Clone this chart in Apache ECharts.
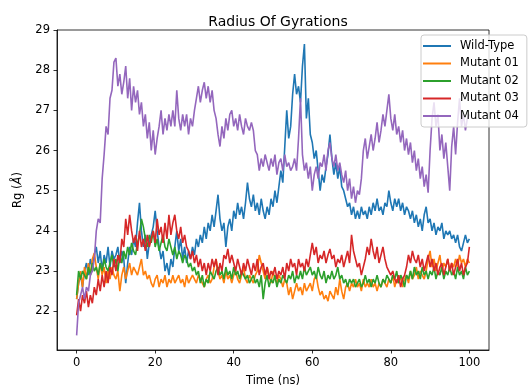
<!DOCTYPE html>
<html>
<head>
<meta charset="utf-8">
<script src="https://cdn.jsdelivr.net/npm/echarts@6/dist/echarts.min.js"></script>
<style>html,body{margin:0;padding:0;background:#fff}#c{width:528px;height:392px}</style>
</head>
<body>
<div id="c"></div>
<script>
// Time axis: samples every 0.5 ns from 0 to 100 ns
const time = Array.from({length: 201}, (_, i) => i * 0.5);
const xTicks = [0, 20, 40, 60, 80, 100];
const yTicks = [22, 23, 24, 25, 26, 27, 28, 29];
const seriesNames = ['Wild-Type', 'Mutant 01', 'Mutant 02', 'Mutant 03', 'Mutant 04'];

const wildType = [
22.3,22.7,22.9,22.6,23.0,23.2,22.9,23.3,23.1,23.4,
23.6,23.2,23.5,23.0,23.4,23.2,23.6,23.1,23.5,23.3,
23.4,23.6,23.2,23.5,23.3,22.7,23.2,23.6,23.4,23.8,
23.6,24.2,24.7,24.0,23.6,23.9,23.3,23.7,23.9,24.1,
24.5,24.0,23.6,23.3,23.5,23.0,23.2,22.9,23.3,23.1,
23.6,24.0,23.5,23.8,23.3,23.6,23.2,23.5,23.3,23.6,
23.4,23.8,23.6,23.9,23.7,24.1,23.8,24.2,24.0,24.4,
24.1,24.5,24.9,24.3,24.0,24.2,23.6,24.1,24.3,24.0,
24.5,24.3,24.7,24.4,24.6,24.3,24.7,25.2,24.8,24.6,
24.9,24.5,24.7,24.4,24.8,24.5,24.3,24.6,24.4,24.8,
24.6,25.0,24.7,25.1,25.5,25.2,26.1,27.0,26.3,26.6,
27.4,27.9,27.4,27.6,27.2,28.1,28.65,26.8,27.3,26.4,
26.2,25.8,26.0,25.5,25.0,25.4,25.2,25.6,25.9,26.4,
25.8,25.4,25.7,25.3,25.6,25.1,25.0,24.8,24.6,24.7,
24.4,24.6,24.3,24.5,24.3,24.6,24.4,24.5,24.3,24.6,
24.4,24.7,24.5,24.8,24.5,24.6,24.4,24.7,24.6,25.0,
24.7,24.5,24.8,24.6,24.8,24.5,24.7,24.4,24.6,24.5,
24.3,24.5,24.2,24.4,24.1,24.3,24.0,24.4,24.6,24.2,
24.3,24.0,24.2,23.9,24.1,24.0,24.2,23.8,24.0,23.9,
24.0,23.8,23.9,23.7,23.9,23.6,23.5,23.7,23.9,23.7,23.8
];
const mutant01 = [
22.3,22.7,23.0,22.6,23.1,22.8,23.2,22.9,23.3,23.45,
23.1,22.8,23.2,22.9,23.1,22.7,23.0,22.8,23.1,22.9,
22.8,23.0,22.5,22.9,23.1,22.8,23.0,23.2,22.9,23.1,
23.0,22.9,23.1,23.3,22.9,23.0,22.8,22.9,22.7,22.6,
22.8,22.9,22.6,22.8,22.7,22.9,22.6,22.8,22.7,22.9,
22.7,22.8,22.9,22.7,22.8,22.6,22.9,22.7,22.8,22.9,
22.8,22.7,22.9,22.8,22.7,22.6,22.8,22.9,22.7,22.8,
23.1,23.3,23.0,22.8,22.9,22.7,23.0,22.8,22.9,22.7,
22.9,23.0,22.8,22.7,22.9,23.1,22.8,22.7,22.9,22.8,
22.7,22.9,23.0,23.4,23.2,23.0,22.8,23.1,22.9,22.7,
23.0,22.8,22.7,22.9,22.8,22.6,22.8,22.7,22.4,22.6,
22.3,22.5,22.7,22.5,22.6,22.4,22.7,22.5,22.6,22.7,
22.5,22.8,22.9,22.6,22.4,22.5,22.3,22.4,22.25,22.5,
22.4,22.3,22.6,22.4,22.8,22.5,22.3,22.6,22.7,22.5,
22.7,22.6,22.8,22.6,22.7,22.5,22.8,22.6,22.7,22.6,
22.8,22.6,22.7,22.5,22.7,22.6,22.8,22.7,22.6,22.8,
22.7,22.9,22.6,22.8,22.7,22.9,22.6,22.8,22.9,22.7,
23.0,22.8,22.9,23.1,22.8,23.0,22.9,22.8,23.0,23.3,
23.5,23.1,23.3,23.0,23.2,23.4,23.0,23.2,23.1,23.3,
23.0,23.2,23.1,23.3,23.1,23.4,23.2,23.3,23.1,23.3,23.2
];
const mutant02 = [
22.4,23.0,22.8,23.0,22.9,22.8,23.1,22.9,23.2,23.0,
23.1,22.9,23.2,23.0,23.3,23.1,23.0,23.2,23.4,23.1,
23.3,23.0,23.4,23.2,23.5,23.3,23.6,23.4,23.7,23.5,
23.4,23.7,23.9,24.3,24.1,23.8,23.6,23.9,23.7,24.0,
23.6,23.8,23.5,23.7,23.9,23.6,23.5,23.8,23.6,23.4,
23.6,23.3,23.5,23.4,23.2,23.4,23.3,23.1,23.2,23.0,
23.1,22.9,23.0,22.7,22.9,22.6,22.8,22.7,23.0,22.9,
22.8,23.0,23.1,22.9,23.0,22.8,23.1,22.9,23.0,22.8,
23.1,22.9,23.0,22.8,23.0,22.9,22.8,22.9,22.7,22.8,
22.9,22.7,22.8,22.6,22.9,22.3,22.7,22.9,22.6,22.8,
22.7,22.9,22.6,22.8,22.7,22.9,22.8,22.7,22.9,22.8,
23.0,22.7,22.9,22.8,23.0,22.8,23.1,22.9,23.0,23.1,
22.9,23.0,22.8,23.1,22.9,22.8,23.0,22.7,22.9,22.8,
23.0,22.8,22.9,23.1,22.8,22.9,22.7,22.8,22.6,22.8,
22.7,22.8,22.6,22.7,22.8,22.6,22.7,22.9,22.7,22.8,
22.6,22.8,22.7,22.9,22.7,22.6,22.8,22.7,22.9,22.8,
22.7,22.9,22.8,23.0,22.7,22.9,22.8,22.6,22.9,22.8,
23.0,22.8,23.1,22.9,23.0,22.8,23.1,22.9,23.0,22.8,
23.0,22.9,23.1,22.8,23.0,22.9,23.1,22.8,23.0,22.9,
23.1,22.9,23.0,22.8,23.1,22.9,23.0,22.8,23.1,22.9,23.0
];
const mutant03 = [
21.9,22.3,22.0,22.4,22.2,22.5,22.1,22.4,22.2,22.6,
22.4,22.8,22.5,22.9,22.6,23.0,22.7,23.1,22.9,23.3,
23.0,23.4,23.2,23.8,23.6,24.3,23.9,24.4,24.0,23.7,
23.9,23.5,24.0,23.6,23.8,23.5,23.9,23.6,23.8,24.0,
23.7,24.3,23.9,24.1,23.7,24.2,23.8,24.4,23.9,24.2,
24.4,24.0,23.8,24.1,23.7,23.9,23.6,23.5,23.3,23.5,
23.2,23.4,23.1,23.3,23.0,23.2,22.9,23.2,23.0,23.3,
23.1,23.3,22.9,23.2,23.0,23.4,23.3,23.55,23.2,23.4,
23.2,23.0,23.3,23.1,22.9,23.2,23.0,23.3,23.1,22.9,
23.2,23.0,23.3,22.9,23.1,23.2,22.9,23.1,22.8,23.0,
22.9,23.1,22.8,23.0,22.9,23.1,22.8,23.2,23.0,23.3,
23.1,23.2,22.9,23.3,23.1,23.2,23.0,23.3,23.1,23.4,
23.7,23.4,23.6,23.2,23.4,23.3,23.5,23.2,23.4,23.55,
23.3,23.4,23.1,23.3,23.2,23.4,23.1,23.3,23.5,23.2,
23.9,23.5,23.3,23.1,23.2,22.9,23.1,23.3,23.6,23.4,
23.8,23.5,23.3,23.6,23.2,23.4,23.6,23.3,23.1,23.0,
22.9,23.0,22.8,22.7,22.9,22.6,22.8,22.9,23.1,23.4,
23.2,23.5,23.3,23.2,23.4,23.1,23.3,23.0,23.2,23.4,
23.1,23.3,23.0,23.2,22.9,23.1,23.2,22.9,23.1,23.3,
23.0,23.2,22.9,23.1,23.3,23.0,23.2,22.9,23.1,23.2,23.6
];
const mutant04 = [
21.4,22.2,22.4,22.6,22.3,22.6,22.5,22.9,23.0,23.3,
24.0,24.3,24.2,25.3,25.9,26.6,26.4,27.3,27.5,28.2,
28.3,27.6,27.9,27.4,27.7,28.1,27.3,27.8,27.0,27.6,
27.2,27.5,26.9,27.2,26.6,26.9,26.3,26.7,26.0,26.5,
25.9,26.3,26.6,27.0,26.4,26.8,26.5,26.9,26.6,27.0,
26.6,27.5,26.8,26.5,26.9,26.6,26.9,26.4,26.8,26.6,
27.0,27.3,27.6,27.2,27.5,27.7,27.3,27.6,27.2,27.5,
27.0,26.8,26.4,26.1,26.6,26.3,26.8,26.5,26.9,27.0,
26.6,26.8,26.5,26.9,26.6,26.4,26.8,26.6,26.5,26.7,
26.5,26.0,25.9,25.5,25.8,25.6,25.9,25.7,25.5,25.8,
25.6,25.9,25.4,25.7,25.8,25.5,25.9,25.6,25.7,25.5,
25.6,25.8,25.5,26.3,27.3,25.9,25.5,25.7,25.3,25.6,
25.0,25.4,25.6,25.3,25.7,25.6,25.9,25.5,26.0,26.2,
25.8,25.6,25.9,25.5,25.7,25.4,25.2,25.5,25.0,25.3,
24.8,25.1,24.7,25.0,24.9,25.3,26.0,26.3,25.8,26.1,
26.4,26.0,26.3,26.7,26.2,26.5,26.9,26.6,27.0,27.4,
26.8,26.5,26.9,26.4,26.6,26.2,26.5,26.0,26.3,25.9,
26.2,25.7,26.0,25.5,25.8,25.3,25.6,25.1,25.4,24.95,
26.0,26.8,27.2,26.6,26.9,26.0,26.4,25.8,26.2,25.6,
25.0,26.1,26.6,25.9,26.7,27.3,26.6,26.9,26.5,26.8,26.9
];

const allValues = [wildType, mutant01, mutant02, mutant03, mutant04];
const colors = ['#1f77b4', '#ff7f0e', '#2ca02c', '#d62728', '#9467bd'];
const FONT = 'DejaVu Sans';

const chart = echarts.init(document.getElementById('c'), null, {renderer: 'canvas'});
chart.setOption({
  animation: false,
  backgroundColor: '#fff',
  color: colors,
  title: {
    text: 'Radius Of Gyrations',
    left: 273, top: 10, textAlign: 'center',
    textStyle: {fontFamily: FONT, fontSize: 14, fontWeight: 'normal', color: '#000'}
  },
  legend: {
    orient: 'vertical',
    left: 421, top: 35,
    padding: [4, 8, 4, 2],
    itemGap: 3.5,
    itemWidth: 28, itemHeight: 2,
    icon: 'rect',
    backgroundColor: 'rgba(255,255,255,0.8)',
    borderColor: '#cccccc', borderWidth: 1, borderRadius: 3,
    textStyle: {fontFamily: FONT, fontSize: 11.5, color: '#000', lineHeight: 14, padding: [0, 0, 0, 4]},
    data: seriesNames
  },
  grid: {
    left: 57, right: 39, top: 30, bottom: 40,
    show: true, borderColor: '#000', borderWidth: 0.8, backgroundColor: 'transparent'
  },
  xAxis: {
    type: 'value', min: -5, max: 105,
    name: 'Time (ns)', nameLocation: 'middle', nameGap: 25,
    nameTextStyle: {fontFamily: FONT, fontSize: 11.5, color: '#000'},
    axisLine: {show: true, onZero: false, lineStyle: {color: '#000', width: 0.8}},
    axisTick: {show: true, length: 3.5, lineStyle: {color: '#000', width: 0.8}, customValues: xTicks},
    axisLabel: {fontFamily: FONT, fontSize: 11.5, color: '#000', margin: 7, customValues: xTicks},
    splitLine: {show: false}
  },
  yAxis: {
    type: 'value', min: 21.035, max: 29.0,
    name: '{a|Rg (}{b|Å}{a|)}', nameLocation: 'middle', nameGap: 27, nameRotate: 90,
    nameTextStyle: {
      fontFamily: FONT, fontSize: 11.5, color: '#000',
      rich: {a: {fontFamily: FONT, fontSize: 11.5, color: '#000'}, b: {fontFamily: FONT, fontSize: 11.5, fontStyle: 'italic', color: '#000'}}
    },
    axisLine: {show: true, onZero: false, lineStyle: {color: '#000', width: 0.8}},
    axisTick: {show: true, length: 3.5, lineStyle: {color: '#000', width: 0.8}, customValues: yTicks},
    axisLabel: {fontFamily: FONT, fontSize: 11.5, color: '#000', margin: 7, customValues: yTicks},
    splitLine: {show: false}
  },
  series: seriesNames.map((name, k) => ({
    name: name,
    type: 'line',
    showSymbol: false,
    symbol: 'none',
    data: time.map((t, i) => [t, allValues[k][i]]),
    lineStyle: {width: 1.6, color: colors[k]},
    itemStyle: {color: colors[k]},
    z: 2 + k * 0.01
  }))
});
</script>
</body>
</html>
